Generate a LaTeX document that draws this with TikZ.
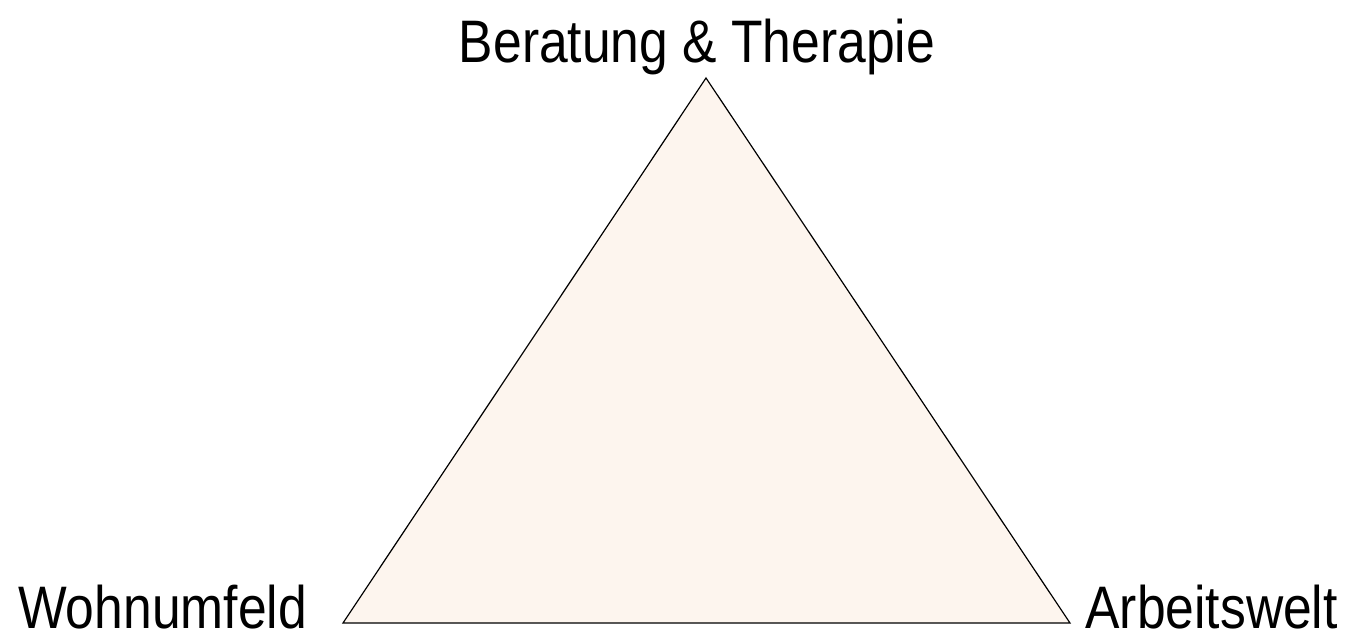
\documentclass[tikz,border=0pt]{standalone}
\usepackage{fontspec}
\setmainfont[FakeStretch=0.86]{Liberation Sans}
\usepackage{tikz}
\usetikzlibrary{positioning}
\definecolor{peach}{RGB}{253,245,238}

\begin{document}
\begin{tikzpicture}[
  x=1pt,y=-1pt,
  font=\fontsize{60}{68}\selectfont,
  tri/.style={draw,fill=peach,line width=1.2pt,line join=miter},
  lbl/.style={inner sep=0pt,anchor=base}]
  \useasboundingbox (0,0) rectangle (1353,639);
  \coordinate (top) at (706,78);
  \coordinate (wohn) at (343,623);
  \coordinate (arb) at (1070,623);
  \draw[tri] (top) -- (arb) -- (wohn) -- cycle;
  \node[lbl] (therapie) at (697,63) {Beratung \& Therapie};
  \node[lbl,anchor=base west] (wohnlbl) at (18,628) {Wohnumfeld};
  \node[lbl,anchor=base east] (arblbl) at (1338,628) {Arbeitswelt};
\end{tikzpicture}
\end{document}
